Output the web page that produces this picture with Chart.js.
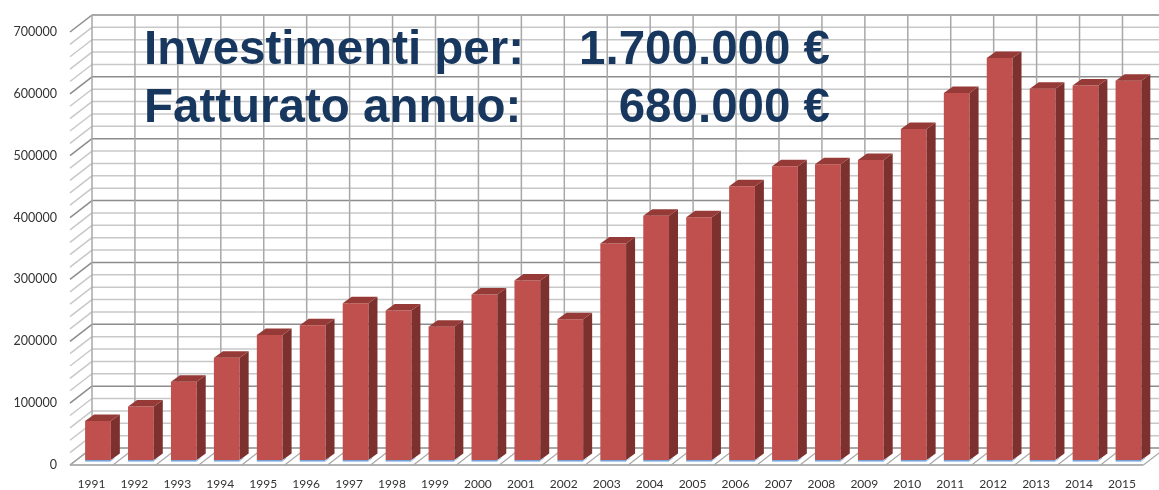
<!DOCTYPE html>
<html>
<head>
<meta charset="utf-8">
<script src="https://cdn.jsdelivr.net/npm/chart.js@4.4.1/dist/chart.umd.min.js"></script>
<style>
  html, body { margin: 0; padding: 0; background: #fff; }
  #wrap { width: 1159px; height: 490px; }
</style>
</head>
<body>
<div id="wrap"><canvas id="myChart"></canvas></div>
<script>
const years = ["1991", "1992", "1993", "1994", "1995", "1996", "1997", "1998", "1999", "2000",
  "2001", "2002", "2003", "2004", "2005", "2006", "2007", "2008", "2009", "2010",
  "2011", "2012", "2013", "2014", "2015"];
const revenue = [63000, 86500, 126500, 165500, 202000, 218000, 253500, 241500, 215500, 267500,
  290000, 227500, 350000, 395000, 392500, 442500, 475000, 478000, 485000, 535000,
  593500, 650000, 600000, 605500, 613000];
const yMax = 700000;
const yStep = 100000;
const minorStep = 20000;
const headLabels = ["Investimenti per:", "Fatturato annuo:"];
const headValues = ["1.700.000 €", "680.000 €"];

// 3d offsets, relative to the plane of the bar fronts
const front = { dx: -6.5, dy: 5 };
const back = { dx: 15.5, dy: -12 };
const barDepth = { dx: 9, dy: -6.5 };

function line(ctx, x1, y1, x2, y2, color, w) {
  ctx.strokeStyle = color;
  ctx.lineWidth = w;
  ctx.beginPath();
  ctx.moveTo(x1, y1);
  ctx.lineTo(x2, y2);
  ctx.stroke();
}

const walls = {
  id: "walls",
  beforeDatasetsDraw(chart) {
    const ctx = chart.ctx;
    const ys = chart.scales.y;
    const left = chart.chartArea.left, right = chart.chartArea.right;
    const cat = (right - left) / years.length;
    const top = ys.getPixelForValue(yMax) + back.dy;
    const bottom = ys.getPixelForValue(0) + back.dy;
    ctx.save();
    // horizontal lines on back wall + left wall
    for (let v = 0; v <= yMax; v += minorStep) {
      const major = v % yStep === 0;
      const col = major ? "#8c8c8c" : "#c8c8c8";
      const py = ys.getPixelForValue(v);
      line(ctx, left + back.dx, py + back.dy, right + back.dx + 20, py + back.dy, col, 1.5);
      line(ctx, left + front.dx, py + front.dy, left + back.dx, py + back.dy, col, 1.5);
    }
    // vertical lines on back wall
    for (let k = 0; k <= years.length; k++) {
      const bx = left + k * cat + back.dx;
      line(ctx, bx, top, bx, bottom, "#a8a8a8", 1.5);
    }
    // floor
    const y0 = ys.getPixelForValue(0);
    line(ctx, left + front.dx, y0 + front.dy, right + front.dx, y0 + front.dy, "#9a9a9a", 1.5);
    for (let k = 0; k <= years.length; k++) {
      const bx = left + k * cat;
      line(ctx, bx + front.dx, y0 + front.dy, bx + back.dx, y0 + back.dy, "#a8a8a8", 1.2);
    }
    ctx.restore();
  }
};

const bars3d = {
  id: "bars3d",
  afterDatasetsDraw(chart) {
    const ctx = chart.ctx;
    const meta = chart.getDatasetMeta(0);
    ctx.save();
    meta.data.forEach(bar => {
      const l = bar.x - bar.width / 2, r = bar.x + bar.width / 2;
      const t = bar.y, b = bar.base;
      // side
      ctx.fillStyle = "#7d312f";
      ctx.beginPath();
      ctx.moveTo(r, t);
      ctx.lineTo(r + barDepth.dx, t + barDepth.dy);
      ctx.lineTo(r + barDepth.dx, b + barDepth.dy);
      ctx.lineTo(r, b);
      ctx.closePath();
      ctx.fill();
      // top
      ctx.fillStyle = "#963a37";
      ctx.beginPath();
      ctx.moveTo(l, t);
      ctx.lineTo(l + barDepth.dx, t + barDepth.dy);
      ctx.lineTo(r + barDepth.dx, t + barDepth.dy);
      ctx.lineTo(r, t);
      ctx.closePath();
      ctx.fill();
      // blue base
      line(ctx, l, b + 0.8, r, b + 0.8, "#6f9fd8", 1.5);
      line(ctx, r, b + 0.8, r + 4, b - 2.2, "#9ebde3", 1);
    });
    ctx.restore();
  }
};

const heading = {
  id: "heading",
  afterDraw(chart) {
    const ctx = chart.ctx;
    ctx.save();
    ctx.fillStyle = "#17375e";
    ctx.font = "bold 47.5px 'Liberation Sans', Arial, sans-serif";
    ctx.textBaseline = "alphabetic";
    const baselines = [64, 121.5];
    for (let i = 0; i < headLabels.length; i++) {
      ctx.textAlign = "left";
      ctx.fillText(headLabels[i], 144, baselines[i]);
      ctx.textAlign = "right";
      ctx.fillText(headValues[i], 830, baselines[i]);
    }
    ctx.restore();
  }
};

const ctx = document.getElementById("myChart").getContext("2d");

new Chart(ctx, {
  type: "bar",
  data: {
    labels: years,
    datasets: [{
      data: revenue,
      backgroundColor: "#c0504d",
      borderWidth: 0,
      barPercentage: 0.6,
      categoryPercentage: 1
    }]
  },
  options: {
    responsive: true,
    maintainAspectRatio: false,
    animation: false,
    layout: { padding: { top: 23, right: 6.5, left: 0, bottom: 0 } },
    plugins: {
      legend: { display: false },
      tooltip: { enabled: false },
      title: { display: false }
    },
    scales: {
      x: {
        grid: { display: false, drawTicks: false },
        border: { display: false },
        ticks: {
          padding: 16.5,
          labelOffset: front.dx,
          maxRotation: 0,
          autoSkip: false,
          color: "#333333",
          font: { family: "Lato", size: 12 }
        },
        afterFit(scale) { scale.height = 30; }
      },
      y: {
        min: 0,
        max: yMax,
        grid: { display: false, drawTicks: false },
        border: { display: false },
        ticks: {
          stepSize: yStep,
          padding: 19.5,
          labelOffset: front.dy,
          color: "#333333",
          font: { family: "Lato", size: 12.5 },
          callback: v => String(v)
        },
        afterFit(scale) { scale.width = 76.5; }
      }
    }
  },
  plugins: [walls, bars3d, heading]
});
</script>
</body>
</html>
